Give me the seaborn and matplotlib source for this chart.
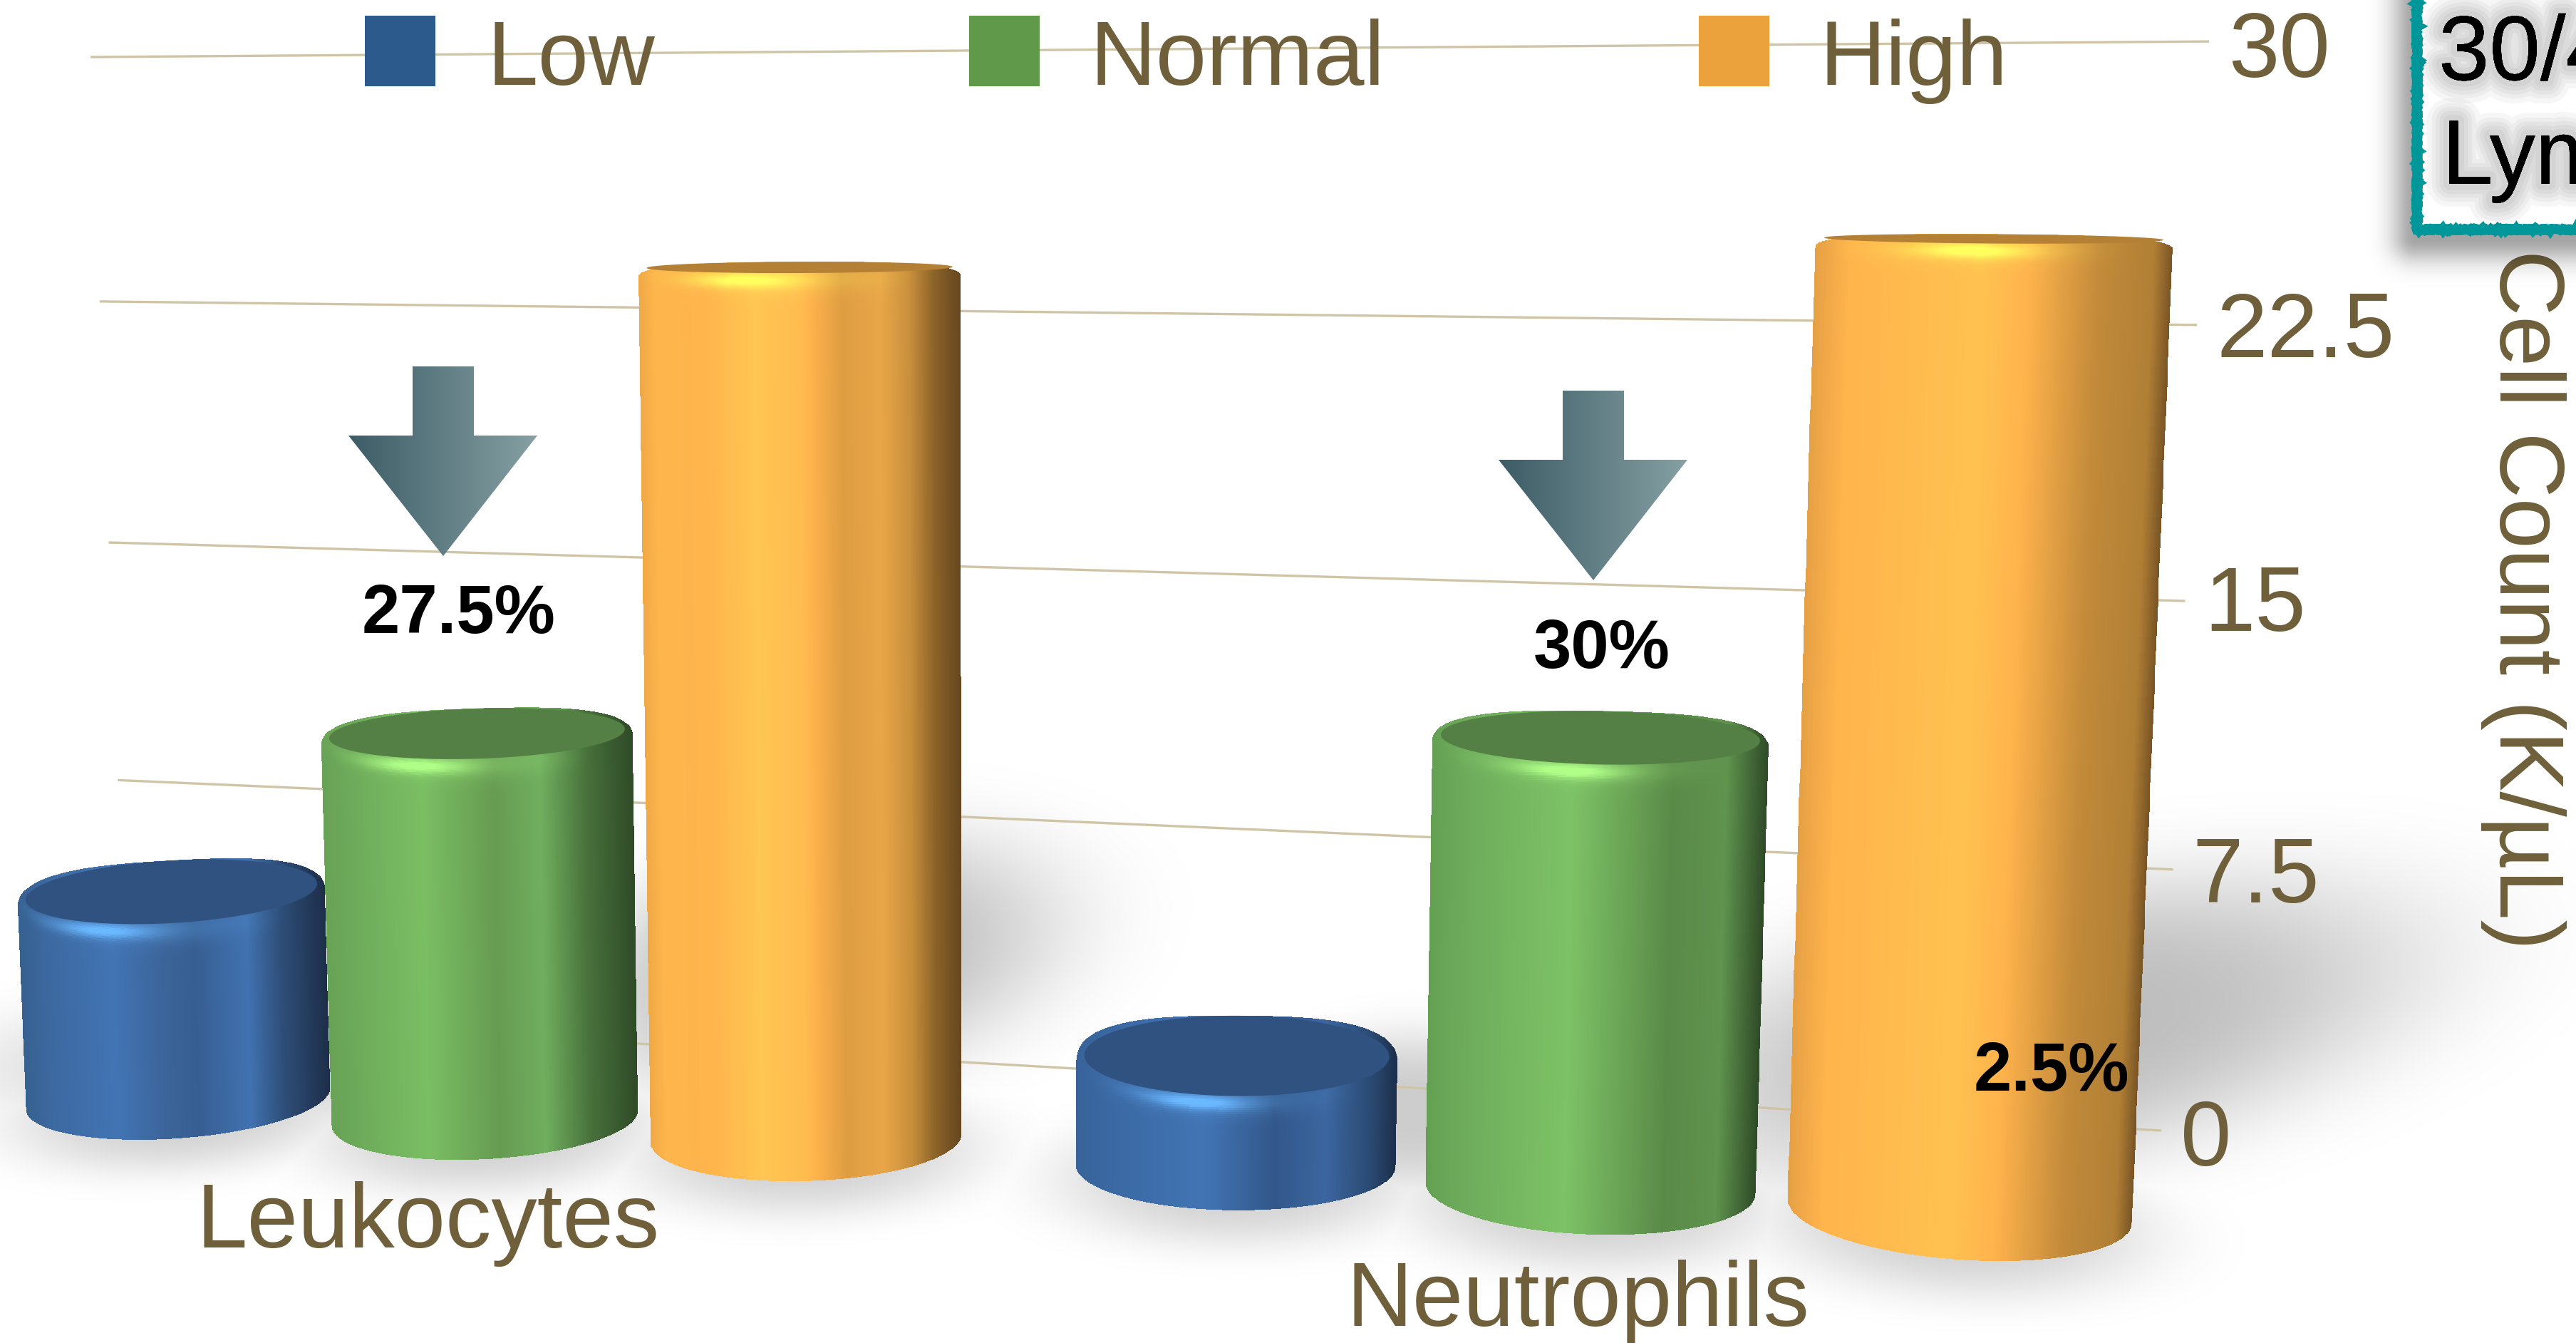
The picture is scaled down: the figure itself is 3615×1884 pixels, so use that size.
import numpy as np
import pandas as pd
import matplotlib
matplotlib.use("Agg")
import matplotlib.pyplot as plt
import matplotlib.patheffects as pe
from matplotlib.colors import to_rgb
from matplotlib.patches import Polygon, Rectangle
import seaborn as sns

# Chart values
cells = ["Leukocytes", "Neutrophils"]
levels = ["Low", "Normal", "High"]
low_counts = [5.8, 2.9]
normal_counts = [10.6, 11.7]
high_counts = [23.6, 24.8]
axis_ticks = [0, 7.5, 15, 22.5, 30]
axis_tick_labels = ["0", "7.5", "15", "22.5", "30"]
axis_title = "Cell Count (K/µL)"
change_labels = ["27.5%", "30%", "2.5%"]
note_lines = ["30/4", "Lym"]

# Styling
INK = "#6F603B"
GRID = "#CFC4A6"
TEAL = "#00979A"
FAMILY = ["Liberation Sans", "DejaVu Sans"]
TEXT_SIZE = 92.5
LEGEND_COLORS = {"Low": "#2D5A8C", "Normal": "#60994A", "High": "#EBA13C"}
CAP_COLORS = {"Low": "#2F5280", "Normal": "#547F45", "High": "#B38036"}
GLOW_COLORS = {"Low": "#6AB8FF", "Normal": "#B0FF88", "High": "#FFFF60"}
SHADING = {
    ("Leukocytes", "Low"): [(0, "#36608F"), (.08, "#3C689F"), (.3, "#4274B4"), (.47, "#3B6499"),
                            (.57, "#375E92"), (.74, "#4172B0"), (.85, "#2E4E78"), (1, "#1D2E49")],
    ("Neutrophils", "Low"): [(0, "#38639A"), (.15, "#3B6AA5"), (.4, "#4274B4"), (.62, "#32578A"),
                             (.78, "#3C66A0"), (.92, "#2A4A72"), (1, "#1C2F4C")],
    ("Leukocytes", "Normal"): [(0, "#68A256"), (.1, "#6EAB5B"), (.32, "#7ABE63"), (.55, "#669B52"),
                               (.7, "#70AE5E"), (.85, "#47703B"), (1, "#2F4A27")],
    ("Neutrophils", "Normal"): [(0, "#64A052"), (.1, "#6DAB5B"), (.42, "#7DC266"), (.72, "#5A8A48"),
                                (.88, "#5F934E"), (1, "#2F4A27")],
    ("Leukocytes", "High"): [(0, "#EFA846"), (.05, "#FDB54C"), (.2, "#FFB44C"), (.36, "#FFC652"),
                             (.5, "#FFBC50"), (.53, "#FFB34C"), (.63, "#DF9D42"), (.75, "#E8A648"),
                             (.84, "#C98F3C"), (.92, "#8A6228"), (1, "#654620")],
    ("Neutrophils", "High"): [(0, "#E6A045"), (.1, "#FFB44C"), (.47, "#FFC250"), (.6, "#FFB34C"),
                              (.8, "#C28A3A"), (.95, "#B07F35"), (1, "#7A5525")],
}

sns.set_theme(style="white")
plt.rcParams["font.family"] = FAMILY

W, H = 3615, 1884
fig = plt.figure(figsize=(W / 100, H / 100), dpi=100, facecolor="white")
ax = fig.add_axes([0, 0, 1, 1])
ax.axis("off")

# The bars supply each cylinder's value and its slot along the category axis.
frame = pd.DataFrame({
    "cell": cells * 3,
    "level": [lv for lv in levels for _ in cells],
    "count": low_counts + normal_counts + high_counts,
})
bar_ax = fig.add_axes([0, 0, 1, 1])
sns.barplot(data=frame, x="cell", y="count", hue="level", hue_order=levels,
            palette=LEGEND_COLORS, width=0.917, legend=False, ax=bar_ax)
bar_ax.set_visible(False)

bars = []
for level, container in zip(levels, bar_ax.containers):
    for cell, bar in zip(cells, container):
        bars.append((bar.get_x() + bar.get_width() / 2, bar.get_width(), bar.get_height(), cell, level))
bars.sort(key=lambda item: item[0])
origin, spacing = bars[0][0], bars[0][1]


# Perspective of the scene: slot along the floor and value up the cylinder.
def floor_x(slot):
    return 250 + 420 * slot + 10.3 * slot ** 2


def project(slot, value):
    x0 = floor_x(slot)
    y0 = 1541 + 0.0632 * (x0 - 250)
    return x0 + value * (x0 - 1400) / 700, y0 - value * (49.5 + 0.002 * x0)


def wall_line(value):
    """End points of a gridline on the back wall."""
    left = (178 - 1.7 * value, 1423 - 43.5 * value - 0.0422 * value ** 2)
    right = (3033 + 2.23 * value, 1586 - 48.13 * value - 0.0933 * value ** 2)
    return left, right


def ring(slot, value):
    cx, cy = project(slot, value)
    x0 = floor_x(slot)
    rx = (213 + 28 * (x0 / 2748) ** 2) * (1 + 0.0016 * value)
    ry = (0.041 + 1.5e-6 * x0) * (cy - 190)
    tilt = 0.9e-6 * (cx - 1650) * ry
    return cx, cy, rx, ry, tilt


def shade(u01, stops):
    pos = [s[0] for s in stops]
    rgb = np.array([to_rgb(s[1]) for s in stops])
    return np.stack([np.interp(u01, pos, rgb[:, i]) for i in range(3)], axis=-1)


def soft_blob(gx, gy, cx, cy, rx, ry, angle, strength):
    dx, dy = gx - cx, gy - cy
    ca, sa = np.cos(angle), np.sin(angle)
    a = (dx * ca + dy * sa) / rx
    b = (-dx * sa + dy * ca) / ry
    return strength * np.exp(-(a * a + b * b) ** 1.6)


def draw_cylinder(slot, value, cell, level, z):
    cx, cy, rt, ryt, tt = ring(slot, value)
    bx, by, rb, ryb, tb = ring(slot, 0)
    bevel = 15
    power = 2.8
    u = np.linspace(-1, 1, 421)
    top_x = cx + rt * u
    top_y = cy + bevel + tt * rt * u - (ryt + bevel) * (1 - np.abs(u) ** power) ** (1 / power)
    low_x = bx + rb * u
    low_y = by + tb * rb * u + ryb * np.sqrt(1 - u ** 2)

    split = min(1.0, 170 / max(by - cy, 1))
    f = np.unique(np.concatenate([np.linspace(0, split, 90), np.linspace(split, 1, 30)]))[:, None]
    X = top_x + f * (low_x - top_x)
    Y = top_y + f * (low_y - top_y)
    uc = 0.5 * (u[:-1] + u[1:])
    Yc = 0.25 * (Y[:-1, :-1] + Y[1:, :-1] + Y[:-1, 1:] + Y[1:, 1:])

    rows = len(f) - 1
    colors = np.tile(shade((uc + 1) / 2, SHADING[(cell, level)])[None, :, :], (rows, 1, 1))

    cap_scale = 0.95
    cap_front = cy + tt * rt * uc + ryt * np.sqrt(np.clip(1 - (uc / cap_scale) ** 2, 0, 1))
    dist = Yc - cap_front
    centre = -0.47 + 0.35 * (floor_x(slot) - 250) / 2500
    glow = 0.95 * np.exp(-((dist - 11) / 10) ** 2) * np.exp(-((uc - centre) / 0.3) ** 2)
    sheen = 0.28 * np.exp(-((dist - 8) / 20) ** 2) * np.clip(1 - np.abs(uc + 0.1) / 0.85, 0, 1)
    mix = np.clip(glow + sheen, 0, 1)[:, :, None]
    colors = colors * (1 - mix) + np.array(to_rgb(GLOW_COLORS[level])) * mix

    ax.pcolormesh(X, Y, colors, shading="flat", zorder=z, antialiased=False, linewidth=0, rasterized=True)

    th = np.linspace(0, 2 * np.pi, 240)
    cap_x = cap_scale * rt * np.cos(th)
    cap = np.column_stack([cx + cap_x, cy + ryt * np.sin(th) + tt * cap_x])
    ax.add_patch(Polygon(cap, closed=True, facecolor=CAP_COLORS[level], edgecolor="none", zorder=z + 0.1))


# Soft shadow thrown on the floor
gx, gy = np.meshgrid(np.linspace(0, W, 905), np.linspace(0, H, 472))
shadow = np.zeros_like(gx)
for spec in [(2870, 1445, 530, 190, -0.20, 0.26),
             (1150, 1350, 340, 170, -0.20, 0.26),
             (300, 1500, 340, 100, 0.0, 0.16),
             (1980, 1560, 180, 110, 0.0, 0.20)]:
    shadow = np.maximum(shadow, soft_blob(gx, gy, *spec))
for center, width, value, cell, level in bars:
    bx, by, rb, ryb, tb = ring((center - origin) / spacing, 0)
    shadow = np.maximum(shadow, soft_blob(gx, gy, bx, by + 22, rb * 1.1, ryb * 1.45, tb, 0.18))
shadow_rgba = np.zeros(gx.shape + (4,))
shadow_rgba[..., 3] = shadow
ax.imshow(shadow_rgba, extent=(0, W, H, 0), origin="upper", aspect="auto", zorder=0.5, interpolation="bilinear")

# Back-wall gridlines and the value axis on the right
for tick, label, drop in zip(axis_ticks, axis_tick_labels, [49, 46, 42, 45, 50]):
    (x0, y0), (x1, y1) = wall_line(tick)
    ax.plot([x0, x1], [y0, y1], color=GRID, lw=2.4, solid_capstyle="butt", zorder=1)
    ax.text(x1 + 27, y1 + drop, label, color=INK, fontsize=TEXT_SIZE, ha="left", va="baseline", zorder=2)
ax.text(3508, 350, axis_title, color=INK, fontsize=92, rotation=-90, rotation_mode="anchor",
        ha="left", va="baseline", zorder=2)

# Cylinders, painted left to right so nearer ones overlap
for i, (center, width, value, cell, level) in enumerate(bars):
    draw_cylinder((center - origin) / spacing, value, cell, level, 3 + i)

# Category names
ax.text(275, 1750, cells[0], color=INK, fontsize=TEXT_SIZE, ha="left", va="baseline", zorder=12)
ax.text(1889, 1860, cells[1], color=INK, fontsize=TEXT_SIZE, ha="left", va="baseline", zorder=12)

# Legend
for level, swatch_x, text_x in zip(levels, [512, 1360, 2384], [684, 1530, 2553]):
    ax.add_patch(Rectangle((swatch_x, 22), 99, 99, facecolor=LEGEND_COLORS[level], edgecolor="none", zorder=12))
    ax.text(text_x, 119, level, color=INK, fontsize=TEXT_SIZE, ha="left", va="baseline", zorder=12)

# Down arrows with their percentage change
gradient = np.linspace(0, 1, 256)[None, :, None] * (np.array(to_rgb("#86A0A3")) - np.array(to_rgb("#3C5C66"))) \
    + np.array(to_rgb("#3C5C66"))
for left, top in [(489, 514), (2103, 548)]:
    sx0, sx1 = left + 90, left + 176
    neck, tip = top + 97, top + 266
    outline = [(sx0, top), (sx1, top), (sx1, neck), (left + 265, neck), (left + 133, tip), (left, neck), (sx0, neck)]
    im = ax.imshow(gradient, extent=(left, left + 265, tip, top), aspect="auto", zorder=12, interpolation="bilinear")
    im.set_clip_path(Polygon(outline, closed=True, transform=ax.transData))

for text, x, y in zip(change_labels, [508, 2152, 2770], [888, 937, 1530]):
    ax.text(x, y, text, color="black", fontsize=69, fontweight="bold", ha="left", va="baseline", zorder=13)

# Note box running off the top right corner
box_shadow = np.hypot(np.maximum(3392 - gx, 0), np.maximum(gy - 332, 0))
box_rgba = np.zeros(gx.shape + (4,))
box_rgba[..., 3] = 0.36 * np.exp(-(box_shadow / 34) ** 2)
ax.imshow(box_rgba, extent=(0, W, H, 0), origin="upper", aspect="auto", zorder=13, interpolation="bilinear")
note = Rectangle((3392, -40), 400, 362, facecolor="white", edgecolor=TEAL, lw=10, zorder=14)
note.set_sketch_params(scale=1.0, length=10, randomness=30)
ax.add_patch(note)
halo = [pe.withStroke(linewidth=w, foreground="#000000", alpha=0.035) for w in (46, 36, 28, 20, 12)] + [pe.Normal()]
for text, x, y in zip(note_lines, [3422, 3427], [112, 258]):
    ax.text(x, y, text, color="black", fontsize=TEXT_SIZE, ha="left", va="baseline", zorder=15, path_effects=halo)

ax.set_xlim(0, W)
ax.set_ylim(H, 0)
fig.savefig("out.png", dpi=100, facecolor="white")
